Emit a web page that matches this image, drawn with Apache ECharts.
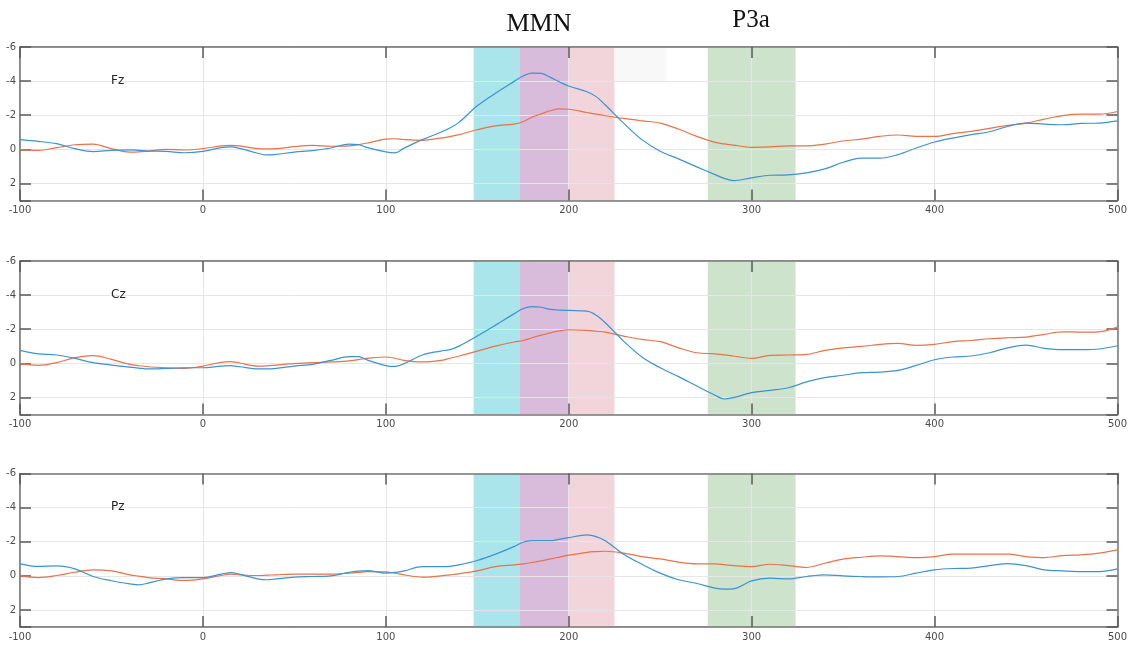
<!DOCTYPE html>
<html><head><meta charset="utf-8">
<script src="https://cdn.jsdelivr.net/npm/echarts@6/dist/echarts.min.js"></script>
<style>html,body{margin:0;padding:0;background:#fff}#c{width:1130px;height:646px}</style>
</head><body><div id="c"></div>
<script>
// time samples (ms)
const times = [-100,-90,-80,-70,-60,-50,-40,-35,-30,-20,-10,0,10,15,20,30,35,40,50,60,70,80,85,90,100,105,110,120,130,135,140,150,160,170,175,180,185,190,195,200,210,215,220,230,240,250,260,270,280,285,290,300,310,320,330,340,350,360,370,380,390,400,410,420,430,440,450,460,470,480,490,500];

const channels = ['Fz','Cz','Pz'];
const xTicks = [-100,0,100,200,300,400,500];
const yTicks = [-6,-4,-2,0,2];

const fzBlue = [-0.57,-0.47,-0.33,-0.04,0.13,0.06,0.03,0.06,0.1,0.12,0.2,0.12,-0.1,-0.14,-0.06,0.23,0.33,0.3,0.16,0.08,-0.08,-0.3,-0.28,-0.1,0.15,0.21,-0.07,-0.57,-1.0,-1.25,-1.58,-2.55,-3.29,-3.97,-4.3,-4.47,-4.45,-4.22,-3.95,-3.71,-3.38,-3.09,-2.6,-1.54,-0.57,0.11,0.56,1.03,1.48,1.7,1.83,1.67,1.52,1.5,1.38,1.15,0.76,0.52,0.52,0.31,-0.08,-0.43,-0.66,-0.86,-1.03,-1.34,-1.54,-1.48,-1.44,-1.52,-1.54,-1.67];
const fzOrange = [0.02,0.06,-0.1,-0.27,-0.31,-0.04,0.16,0.15,0.1,0,0.04,-0.04,-0.2,-0.23,-0.2,-0.04,-0.03,-0.04,-0.16,-0.23,-0.18,-0.2,-0.28,-0.37,-0.6,-0.62,-0.57,-0.53,-0.66,-0.75,-0.86,-1.15,-1.38,-1.48,-1.62,-1.89,-2.08,-2.26,-2.37,-2.35,-2.16,-2.06,-1.97,-1.81,-1.67,-1.54,-1.19,-0.76,-0.41,-0.32,-0.25,-0.12,-0.14,-0.2,-0.2,-0.31,-0.49,-0.6,-0.76,-0.84,-0.76,-0.76,-0.92,-1.05,-1.23,-1.4,-1.54,-1.77,-1.98,-2.06,-2.06,-2.22];
const czBlue = [-0.76,-0.56,-0.49,-0.29,-0.04,0.1,0.22,0.28,0.33,0.3,0.26,0.26,0.16,0.14,0.2,0.33,0.33,0.3,0.16,0.06,-0.17,-0.39,-0.39,-0.19,0.13,0.18,0.02,-0.49,-0.72,-0.8,-1.01,-1.6,-2.24,-2.9,-3.21,-3.33,-3.29,-3.16,-3.12,-3.1,-3.06,-2.82,-2.38,-1.3,-0.37,0.26,0.78,1.33,1.87,2.09,2.01,1.72,1.58,1.43,1.09,0.84,0.7,0.55,0.51,0.41,0.12,-0.21,-0.37,-0.43,-0.62,-0.91,-1.07,-0.88,-0.8,-0.8,-0.84,-1.03];
const czOrange = [0.02,0.12,-0.04,-0.33,-0.45,-0.23,0.06,0.14,0.2,0.26,0.3,0.16,-0.06,-0.1,-0.02,0.16,0.15,0.1,0.02,-0.04,-0.08,-0.14,-0.22,-0.29,-0.37,-0.3,-0.17,-0.08,-0.17,-0.3,-0.43,-0.72,-1.01,-1.25,-1.34,-1.5,-1.65,-1.79,-1.9,-1.97,-1.93,-1.88,-1.83,-1.6,-1.4,-1.27,-0.91,-0.62,-0.56,-0.5,-0.43,-0.29,-0.47,-0.49,-0.52,-0.76,-0.91,-0.99,-1.11,-1.17,-1.05,-1.11,-1.27,-1.34,-1.44,-1.5,-1.54,-1.7,-1.85,-1.83,-1.85,-2.12];
const pzBlue = [-0.7,-0.55,-0.58,-0.41,0.04,0.29,0.47,0.53,0.43,0.18,0.1,0.1,-0.1,-0.19,-0.1,0.18,0.23,0.18,0.08,0.04,0,-0.21,-0.28,-0.31,-0.16,-0.2,-0.29,-0.54,-0.54,-0.56,-0.64,-0.9,-1.27,-1.71,-1.97,-2.06,-2.07,-2.06,-2.15,-2.24,-2.4,-2.3,-2.05,-1.27,-0.68,-0.16,0.23,0.45,0.72,0.78,0.76,0.3,0.14,0.18,0.04,-0.06,0,0.04,0.06,0.04,-0.16,-0.35,-0.43,-0.45,-0.6,-0.72,-0.6,-0.35,-0.29,-0.25,-0.25,-0.41];
const pzOrange = [0,0.1,-0.02,-0.21,-0.35,-0.29,-0.06,0.02,0.1,0.18,0.27,0.18,-0.02,-0.1,-0.06,-0.02,-0.04,-0.06,-0.1,-0.1,-0.1,-0.16,-0.2,-0.25,-0.23,-0.15,-0.06,0.08,0,-0.06,-0.12,-0.29,-0.54,-0.64,-0.7,-0.78,-0.88,-0.99,-1.1,-1.21,-1.38,-1.42,-1.44,-1.33,-1.13,-0.99,-0.8,-0.7,-0.7,-0.66,-0.6,-0.54,-0.68,-0.6,-0.49,-0.74,-0.98,-1.09,-1.17,-1.13,-1.07,-1.13,-1.27,-1.27,-1.27,-1.27,-1.13,-1.07,-1.19,-1.23,-1.33,-1.52];

const blueSeries = [fzBlue, czBlue, pzBlue];
const orangeSeries = [fzOrange, czOrange, pzOrange];

// time windows (ms)
const bands = [
  {from:148, to:173, color:'#a9e5ea'},
  {from:173, to:200, color:'#d9bbdb'},
  {from:200, to:225, color:'#f2d5db'},
  {from:276, to:324, color:'#cde3cc'}
];
const greyBand = {from:225, to:253, yFrom:-6, yTo:-4, color:'#f8f8f8'};

const gridTops = [47, 261, 473.5];
const gridH = 153.5;

const chart = echarts.init(document.getElementById('c'));
const grids = [], xAxes = [], yAxes = [], series = [], graphics = [];
const tickColor = '#5a5a5a';
const labelStyle = {color:'#4a4a4a', fontSize:10, fontFamily:'DejaVu Sans'};
const boxLine = {show:true, onZero:false, lineStyle:{color:'#777', width:1.5}};

for (let i = 0; i < 3; i++) {
  grids.push({left:20, right:12, top:gridTops[i], height:gridH, show:true, borderColor:'#777', borderWidth:1, backgroundColor:'transparent'});
  xAxes.push({type:'value', gridIndex:i, min:-100, max:500, interval:100, position:'bottom', z:3,
    axisLine:boxLine,
    axisTick:{show:true, inside:true, length:11, lineStyle:{color:tickColor, width:1.5}},
    axisLabel:Object.assign({margin:5}, labelStyle),
    splitLine:{show:true, lineStyle:{color:'#e6e6e6', width:1}}});
  xAxes.push({type:'value', gridIndex:i, min:-100, max:500, interval:100, position:'top', z:3,
    axisLine:boxLine,
    axisTick:{show:true, inside:true, length:11, lineStyle:{color:tickColor, width:1.5}},
    axisLabel:{show:false}, splitLine:{show:false}});
  yAxes.push({type:'value', gridIndex:i, min:-6, max:3, interval:2, inverse:true, position:'left', z:3,
    axisLine:boxLine,
    axisTick:{show:true, inside:true, length:11, lineStyle:{color:tickColor, width:1.5}},
    axisLabel:Object.assign({margin:4, formatter:v => yTicks.indexOf(v) >= 0 ? String(v) : ''}, labelStyle),
    splitLine:{show:true, lineStyle:{color:'#e6e6e6', width:1}}});
  yAxes.push({type:'value', gridIndex:i, min:-6, max:3, interval:2, inverse:true, position:'right', z:3,
    axisLine:boxLine,
    axisTick:{show:true, inside:true, length:11, lineStyle:{color:tickColor, width:1.5}},
    axisLabel:{show:false}, splitLine:{show:false}});

  const areas = bands.map(b => [{xAxis:b.from, yAxis:-6, itemStyle:{color:b.color, opacity:1}}, {xAxis:b.to, yAxis:3}]);
  if (i === 0) areas.push([{xAxis:greyBand.from, yAxis:greyBand.yFrom, itemStyle:{color:greyBand.color, opacity:1}}, {xAxis:greyBand.to, yAxis:greyBand.yTo}]);
  series.push({type:'line', xAxisIndex:2*i, yAxisIndex:2*i, z:1, silent:true, symbol:'none',
    data: times.map((t,k) => [t, blueSeries[i][k]]), lineStyle:{opacity:0},
    markArea:{silent:true, data:areas}});
  series.push({type:'line', xAxisIndex:2*i, yAxisIndex:2*i, z:5, symbol:'none', smooth:0.35,
    data: times.map((t,k) => [t, orangeSeries[i][k]]), lineStyle:{color:'#e8724a', width:1.2}});
  series.push({type:'line', xAxisIndex:2*i, yAxisIndex:2*i, z:5, symbol:'none', smooth:0.35,
    data: times.map((t,k) => [t, blueSeries[i][k]]), lineStyle:{color:'#3d92d2', width:1.2}});
}

const labelY = [82, 296, 508];
channels.forEach((c, i) => {
  graphics.push({type:'text', left:111, top:labelY[i]-7, z:10, style:{text:c, fill:'#222', font:'12px "DejaVu Sans"'}});
});
graphics.push({type:'text', x:539, y:24, z:10, style:{text:'MMN', fill:'#111', font:'26px "Liberation Serif"', align:'center', verticalAlign:'middle'}});
graphics.push({type:'text', x:751, y:20, z:10, style:{text:'P3a', fill:'#111', font:'25px "Liberation Serif"', align:'center', verticalAlign:'middle'}});

chart.setOption({animation:false, backgroundColor:'#fff', grid:grids, xAxis:xAxes, yAxis:yAxes, series:series, graphic:graphics});
</script></body></html>
